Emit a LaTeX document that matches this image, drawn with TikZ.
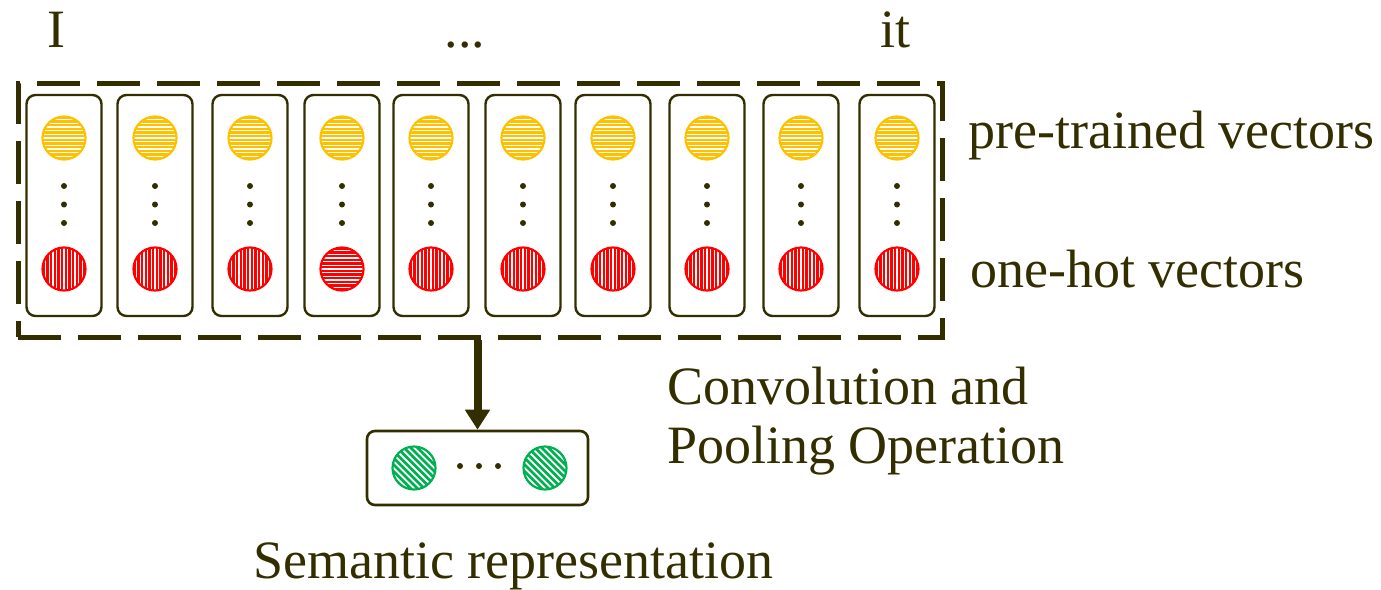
\documentclass[tikz,border=0pt]{standalone}
\usepackage{fontspec}
\setmainfont{Liberation Serif}
\usetikzlibrary{arrows.meta}
\definecolor{ink}{RGB}{50,46,0}
\definecolor{gold}{RGB}{255,192,0}
\definecolor{hotred}{RGB}{255,0,0}
\definecolor{leaf}{RGB}{0,176,80}

\begin{document}
\begin{tikzpicture}[x=0.5pt,y=-0.5pt,
  % hatched disc: colour, stripe angle, stripe period, white stripe width
  hatched/.style n args={4}{circle, minimum size=21.5pt, inner sep=0pt,
    fill=#1, draw=#1, line width=1.1pt,
    path picture={
      \foreach \k in {-9,...,9}{
        \draw[white, line width=#4]
          ([shift={(#2:16pt)}, shift={(#2+90:\k*#3)}]path picture bounding box.center) --
          ([shift={(#2+180:16pt)}, shift={(#2+90:\k*#3)}]path picture bounding box.center);
      }}},
  wordvec/.style={hatched={gold}{0}{1.85pt}{0.65pt}},
  onehot/.style={hatched={hotred}{90}{1.85pt}{0.65pt}},
  onehotrow/.style={hatched={hotred}{0}{1.85pt}{0.65pt}},
  semvec/.style={hatched={leaf}{-45}{2.4pt}{0.9pt}},
  column/.style={draw=ink, line width=1.2pt, rounded corners=4.5pt,
    minimum width=37.5pt, minimum height=110.5pt, inner sep=0pt},
  dot/.style={circle, fill=ink, inner sep=0pt, minimum size=3pt},
  label/.style={text=ink, font=\fontsize{27}{32}\selectfont, inner sep=0pt},
]
\useasboundingbox (0,0) rectangle (1381,589);

% outer dashed frame around the word columns
\node[draw=ink, line width=2.5pt, dash pattern=on 21.5pt off 8.5pt,
      minimum width=462pt, minimum height=127pt, inner sep=0pt] (outer) at (480,210) {};

% word columns: pre-trained vector on top, one-hot vector below
\foreach \cx [count=\i] in {64,155,250,342,431,523,613,707,801,897}{
  \node[column] (col\i) at (\cx,205.5) {};
  \node[wordvec] (pt\i) at (\cx,138) {};
  \node[dot] (da\i) at (\cx,186) {};
  \node[dot] (db\i) at (\cx,204.5) {};
  \node[dot] (dc\i) at (\cx,223) {};
  \ifnum\i=4
    \node[onehotrow] (oh\i) at (\cx,269) {};
  \else
    \node[onehot] (oh\i) at (\cx,269) {};
  \fi
}

% semantic representation
\node[draw=ink, line width=1.3pt, rounded corners=4pt, minimum width=110.5pt,
      minimum height=37pt, inner sep=0pt] (rep) at (477.5,468) {};
\node[semvec] (sem1) at (414,468) {};
\node[semvec] (sem2) at (545,468) {};
\node[dot] (sd1) at (460,466) {};
\node[dot] (sd2) at (479,466) {};
\node[dot] (sd3) at (498,466) {};

\draw[ink, line width=4pt, -{Triangle[width=12pt,length=10pt]}]
  (outer.south -| rep.north) -- (rep.north);

% labels
\node[label, anchor=base] (wfirst) at (56,47) {I};
\node[label, anchor=base] (wdots) at (465,47) {...};
\node[label, anchor=base] (wlast) at (895,47) {it};
\node[label, anchor=base west] (lpt) at (968,148) {pre-trained vectors};
\node[label, anchor=base west] (loh) at (970,287) {one-hot vectors};
\node[label, anchor=base west] (lconv) at (667,404) {Convolution and};
\node[label, anchor=base west] (lpool) at (667,463) {Pooling Operation};
\node[label, anchor=base west] (lsem) at (253,578) {Semantic representation};
\end{tikzpicture}
\end{document}
